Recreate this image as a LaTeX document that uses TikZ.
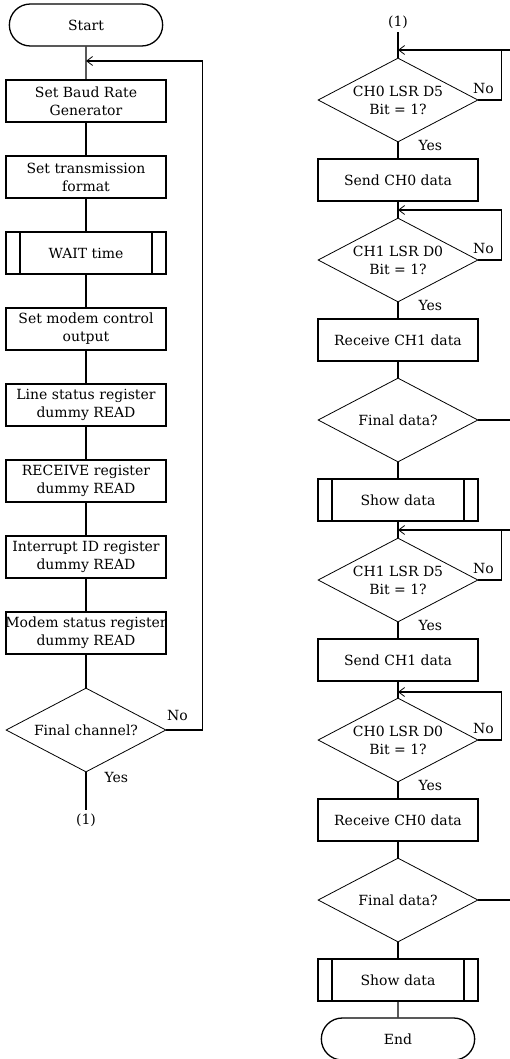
\documentclass[tikz,border=0pt]{standalone}
\usepackage{fontspec}
\setmainfont{DejaVu Serif}
\usepackage{tikz}
\usetikzlibrary{arrows.meta,shapes.geometric,shapes.misc,positioning}

\begin{document}
\begin{tikzpicture}[x=1pt,y=-1pt,>={Straight Barb[length=6pt,width=9pt,line width=0.8pt]},line width=1.3pt,node distance=76pt,
  font=\fontsize{14}{18}\selectfont,
  box/.style={rectangle,draw,minimum width=160pt,minimum height=42pt,align=center,inner sep=0pt},
  term/.style={rounded rectangle,draw,minimum width=160pt,minimum height=42pt},
  subr/.style={box,path picture={\draw ([xshift=14pt]path picture bounding box.north west) -- ([xshift=14pt]path picture bounding box.south west) ([xshift=-14pt]path picture bounding box.north east) -- ([xshift=-14pt]path picture bounding box.south east);}},
  dec/.style={diamond,draw,line width=0.8pt,minimum width=160pt,minimum height=84pt,inner sep=-3pt,aspect=2,align=center},
  tag/.style={inner sep=1pt}]
\useasboundingbox (0,0) rectangle (510,1059);

% left column
\node[term] (start) at (86,25) {Start};
\node[box] (baud) [below of=start] {Set Baud Rate\\Generator};
\node[box] (fmt) [below of=baud] {Set transmission\\format};
\node[subr] (wait) [below of=fmt] {WAIT time};
\node[box] (mcr) [below of=wait] {Set modem control\\output};
\node[box] (lsr) [below of=mcr] {Line status register\\dummy READ};
\node[box] (rbr) [below of=lsr] {RECEIVE register\\dummy READ};
\node[box] (iir) [below of=rbr] {Interrupt ID register\\dummy READ};
\node[box,inner xsep=-6pt] (msr) [below of=iir] {Modem status register\\dummy READ};
\node[dec] (lastch) [below of=msr,node distance=97pt] {Final channel?};
\node (out1) [below of=lastch,node distance=90pt] {(1)};
\coordinate (ret0) at (86,61);
\node[tag] (lastch-no) [above right=8pt and -1pt of lastch.east] {No};
\node[tag] (lastch-yes) [below right=-2pt and 17pt of lastch.south] {Yes};

\path (start) edge (baud)
(baud) edge (fmt)
(fmt) edge (wait)
(wait) edge (mcr)
(mcr) edge (lsr)
(lsr) edge (rbr)
(rbr) edge (iir)
(iir) edge (msr)
(msr) edge (lastch)
(lastch) edge (out1);
\draw[->] (lastch.east) -- ++(36,0) |- (ret0);

% right column
\begin{scope}[node distance=80pt]
\node (in1) at (398,22) {(1)};
\node[dec] (ch0tx) [below of=in1,node distance=78pt] {CH0 LSR D5\\Bit = 1?};
\node[box] (send0) [below of=ch0tx] {Send CH0 data};
\node[dec] (ch1rx) [below of=send0] {CH1 LSR D0\\Bit = 1?};
\node[box] (recv1) [below of=ch1rx] {Receive CH1 data};
\node[dec] (last0) [below of=recv1] {Final data?};
\node[subr] (show0) [below of=last0] {Show data};
\node[dec] (ch1tx) [below of=show0] {CH1 LSR D5\\Bit = 1?};
\node[box] (send1) [below of=ch1tx] {Send CH1 data};
\node[dec] (ch0rx) [below of=send1] {CH0 LSR D0\\Bit = 1?};
\node[box] (recv0) [below of=ch0rx] {Receive CH0 data};
\node[dec] (last1) [below of=recv0] {Final data?};
\node[subr] (show1) [below of=last1] {Show data};
\node[term] (end) [below of=show1,node distance=59pt] {End};
\end{scope}
\coordinate (rim) at (510,0);
\coordinate (ret1) at (398,50);
\coordinate (ret2) at (398,210);
\coordinate (ret3) at (398,530);
\coordinate (ret4) at (398,692);
\foreach \d in {ch0tx,ch1rx,ch1tx,ch0rx}{
  \node[tag] (\d-no) [above right=5pt and -7pt of \d.east] {No};
  \node[tag] (\d-yes) [below right=-4pt and 19pt of \d.south] {Yes};
}

\path (in1) edge (ch0tx)
(ch0tx) edge (send0)
(send0) edge (ch1rx)
(ch1rx) edge (recv1)
(recv1) edge (last0)
(last0) edge (show0)
(show0) edge (ch1tx)
(ch1tx) edge (send1)
(send1) edge (ch0rx)
(ch0rx) edge (recv0)
(recv0) edge (last1)
(last1) edge (show1)
(show1) edge (end);
\draw[->] (ch0tx.east) -- ++(23,0) |- (ret1);
\draw (ret1) -- (ret1 -| rim);
\draw[->] (ch1rx.east) -- ++(23,0) |- (ret2);
\draw[->] (ch1tx.east) -- ++(23,0) |- (ret3);
\draw (ret3) -- (ret3 -| rim);
\draw[->] (ch0rx.east) -- ++(23,0) |- (ret4);
\draw (last0.east) -- (last0.east -| rim);
\draw (last1.east) -- (last1.east -| rim);
\end{tikzpicture}
\end{document}
